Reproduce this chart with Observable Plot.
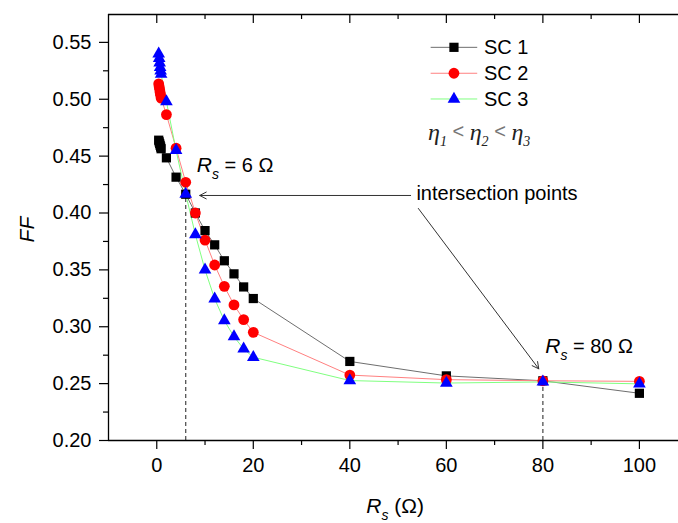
<!DOCTYPE html>
<html><head><meta charset="utf-8">
<script src="https://cdn.jsdelivr.net/npm/d3@7"></script>
<script src="https://cdn.jsdelivr.net/npm/@observablehq/plot@0.6"></script>
<style>body{margin:0;background:#fff}#chart{width:678px;height:523px}</style>
</head><body><div id="chart"></div>
<script>
// ---- data ----
const rs  = [0.4, 0.5, 0.6, 0.7, 0.8, 0.9, 2, 4, 6, 8, 10, 12, 14, 16, 18, 20, 40, 60, 80, 100];
const sc1 = [0.464, 0.4625, 0.461, 0.4595, 0.458, 0.4565, 0.4485, 0.4315, 0.4165, 0.400, 0.3845, 0.372, 0.358, 0.3465, 0.335, 0.3248, 0.2695, 0.2568, 0.2525, 0.2415];
const sc2 = [0.5135, 0.511, 0.5085, 0.506, 0.5035, 0.501, 0.4865, 0.457, 0.427, 0.400, 0.3762, 0.3543, 0.3355, 0.3192, 0.3063, 0.2951, 0.2575, 0.2535, 0.2525, 0.252];
const sc3 = [0.540, 0.536, 0.532, 0.528, 0.525, 0.522, 0.498, 0.455, 0.4167, 0.381, 0.350, 0.3245, 0.3054, 0.2913, 0.2805, 0.2732, 0.2527, 0.2505, 0.2515, 0.2498];
const seriesNames = ["SC 1", "SC 2", "SC 3"];
const xTicks = [0, 20, 40, 60, 80, 100];
const xMinor = [10, 30, 50, 70, 90];
const yTicks = [0.20, 0.25, 0.30, 0.35, 0.40, 0.45, 0.50, 0.55];
const yMinor = [0.225, 0.275, 0.325, 0.375, 0.425, 0.475, 0.525];
const intersections = [{rs: 6, ff: 0.4165}, {rs: 80, ff: 0.2515}];

// ---- styles ----
const lineColors = ["#6e6e6e", "#ff8080", "#80ff80"];
const fills = ["#000000", "#ff0000", "#0000ff"];
const symbols = ["square", "circle", "triangle"];
const radii = [5.2, 5.4, 4.7];
const X0 = -10, X1 = 108.1, Y0 = 0.2, Y1 = 0.5745;
const W = 678, H = 523, ML = 108, MR = 0, MT = 14, MB = 83;
const pyU = (H - MT - MB) / (Y1 - Y0), pxU = (W - ML - MR) / (X1 - X0);

const allSeries = [sc1, sc2, sc3].map((arr, i) => arr.map((ff, j) => ({series: seriesNames[i], rs: rs[j], ff})));

const marks = [
  ...intersections.map(p => Plot.ruleX([p], {x: "rs", y1: Y0, y2: "ff", stroke: "#444", strokeWidth: 1.2, strokeDasharray: "4,3"})),
  ...allSeries.map((d, i) => Plot.line(d, {x: "rs", y: "ff", stroke: lineColors[i], strokeWidth: 1})),
  ...allSeries.map((d, i) => Plot.dot(d, {x: "rs", y: "ff", symbol: symbols[i], r: radii[i], fill: fills[i], stroke: "none"})),
  // frame (left, bottom, top)
  Plot.ruleX([X0], {stroke: "#000", strokeWidth: 1.3}),
  Plot.ruleY([Y0], {stroke: "#000", strokeWidth: 1.3}),
  Plot.ruleY([Y1], {stroke: "#000", strokeWidth: 1.3}),
  Plot.axisX(xTicks, {tickSize: 9, tickPadding: 8, tickFormat: d => String(d), label: null, strokeWidth: 1.2}),
  Plot.axisY(yTicks, {tickSize: 9, tickPadding: 8, tickFormat: d3.format(".2f"), label: null, strokeWidth: 1.2}),
  Plot.ruleX(xMinor, {y1: Y0, y2: Y0 - 5 / pyU, stroke: "#000", strokeWidth: 1.2}),
  Plot.ruleY(yMinor, {x1: X0, x2: X0 - 5 / pxU, stroke: "#000", strokeWidth: 1.2}),
  Plot.ruleX(xTicks, {y1: Y1, y2: Y1 - 9 / pyU, stroke: "#000", strokeWidth: 1.2}),
  Plot.ruleX(xMinor, {y1: Y1, y2: Y1 - 5 / pyU, stroke: "#000", strokeWidth: 1.2}),
  // arrows
  Plot.arrow([{x1: 52.6, y1: 0.4154, x2: 8.9, y2: 0.4154}, {x1: 54.2, y1: 0.4040, x2: 79.15, y2: 0.2630}],
    {x1: "x1", y1: "y1", x2: "x2", y2: "y2", stroke: "#333", strokeWidth: 1, headLength: 11, headAngle: 55})
];

const plot = Plot.plot({
  width: W, height: H, marginLeft: ML, marginRight: MR, marginTop: MT, marginBottom: MB,
  x: {domain: [X0, X1], label: null},
  y: {domain: [Y0, Y1], label: null},
  style: {fontFamily: "'Liberation Sans', Arial, sans-serif", fontSize: "20px", background: "#fff", color: "#000", overflow: "visible"},
  marks
});
document.getElementById("chart").appendChild(plot);

// ---- rich-text annotations via the plot's own scales ----
const sx = plot.scale("x"), sy = plot.scale("y");
const svg = d3.select(plot);
const SANS = "'Liberation Sans', Arial, sans-serif", SERIF = "'Liberation Serif', 'Times New Roman', serif";

function rich(x, y, parts, anchor = "start") {
  const t = svg.append("text").attr("x", x).attr("y", y).attr("text-anchor", anchor)
    .attr("font-family", SANS).attr("font-size", 20).attr("fill", "#000");
  parts.forEach(p => {
    const s = t.append("tspan").text(p.t);
    if (p.dy) s.attr("dy", p.dy);
    if (p.dx) s.attr("dx", p.dx);
    if (p.i) s.attr("font-style", "italic");
    if (p.size) s.attr("font-size", p.size);
    if (p.fam) s.attr("font-family", p.fam);
    if (p.fill) s.attr("fill", p.fill);
  });
  return t;
}
const rsLabel = (v) => [{t: "R", i: 1, size: 21}, {t: "s", i: 1, size: 14, dy: 7}, {t: " = " + v + " Ω", dy: -7}];

rich(sx.apply(8.4), sy.apply(0.4359), rsLabel(6));
rich(sx.apply(80.6), sy.apply(0.2762), rsLabel(80));
rich(sx.apply(53.9), sy.apply(0.4110), [{t: "intersection points"}]);

// axis titles
svg.append("text").attr("transform", `translate(34,${sy.apply(0.385)}) rotate(-90)`)
  .attr("text-anchor", "middle").attr("font-family", SANS).attr("font-size", 21)
  .attr("font-style", "italic").text("FF");
rich(sx.apply(43.5), 513, [{t: "R", i: 1, size: 21}, {t: "s", i: 1, size: 14, dy: 7}, {t: " (Ω)", dy: -7, size: 21}]);

// legend
const legendY = [0.5452, 0.5224, 0.4998];
const legX1 = 56.85, legX2 = 66.5, legM = 61.68, legT = 67.9;
seriesNames.forEach((name, i) => {
  const y = sy.apply(legendY[i]);
  svg.append("line").attr("x1", sx.apply(legX1)).attr("x2", sx.apply(legX2)).attr("y1", y).attr("y2", y)
    .attr("stroke", lineColors[i]).attr("stroke-width", 1);
  const symType = [d3.symbolSquare, d3.symbolCircle, d3.symbolTriangle][i];
  svg.append("path").attr("d", d3.symbol(symType, Math.PI * radii[i] * radii[i])())
    .attr("transform", `translate(${sx.apply(legM)},${y})`).attr("fill", fills[i]);
  rich(sx.apply(legT), y + 7, [{t: name}]);
});

// eta relation
rich(sx.apply(56.3), sy.apply(0.4637), [
  {t: "η", i: 1, fam: SERIF, size: 24, fill: "#222"},
  {t: "1", i: 1, fam: SERIF, size: 14, dy: 6, fill: "#222"},
  {t: " < ", dy: -8, fill: "#777", size: 20},
  {t: "η", i: 1, fam: SERIF, size: 24, dy: 2, fill: "#222"},
  {t: "2", i: 1, fam: SERIF, size: 14, dy: 6, fill: "#222"},
  {t: " < ", dy: -8, fill: "#777", size: 20},
  {t: "η", i: 1, fam: SERIF, size: 24, dy: 2, fill: "#222"},
  {t: "3", i: 1, fam: SERIF, size: 14, dy: 6, fill: "#222"}
]);
</script></body></html>
